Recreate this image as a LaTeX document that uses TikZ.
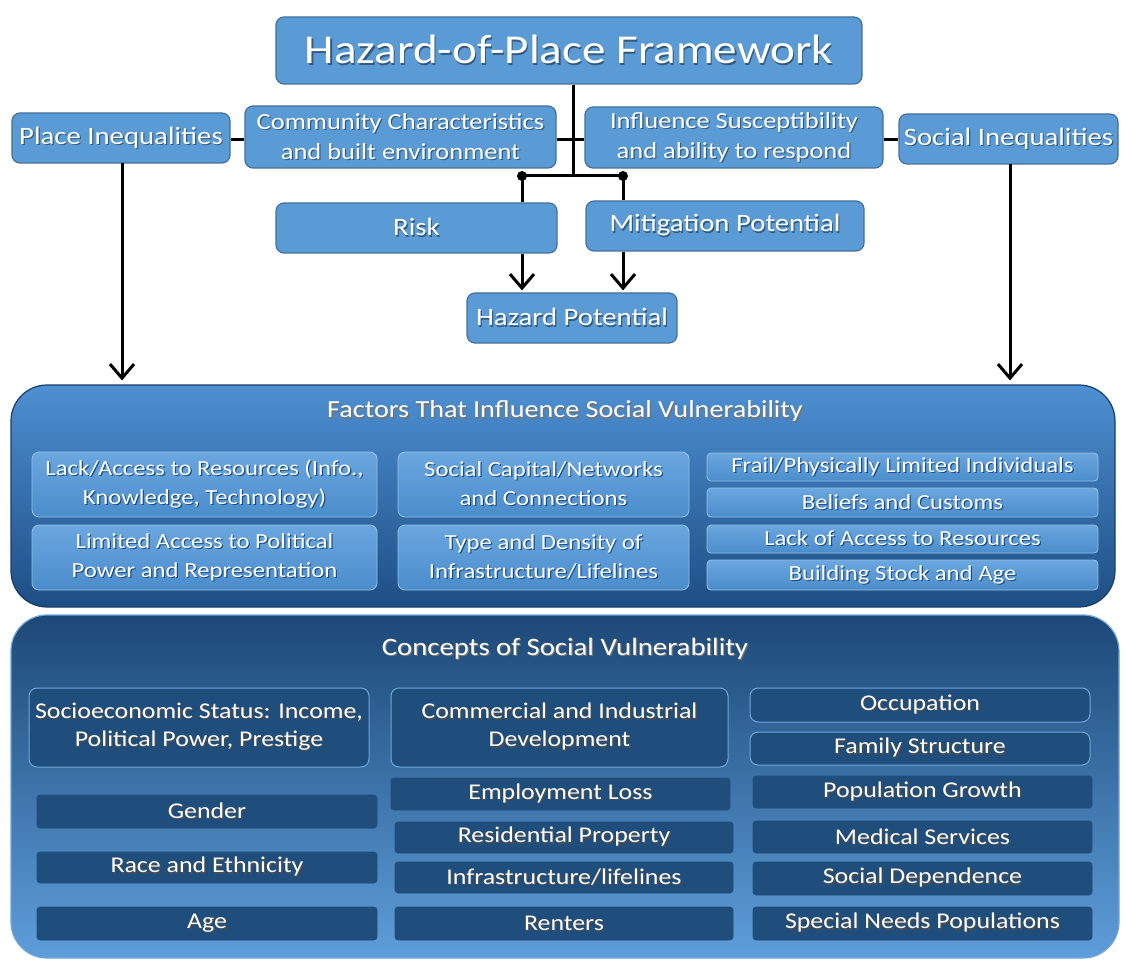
\documentclass[tikz,border=0pt]{standalone}
\usepackage{fontspec}
\setmainfont[FakeStretch=1.15]{Carlito}
\usetikzlibrary{arrows.meta}
\definecolor{lb}{HTML}{5B9BD5}
\definecolor{lbline}{HTML}{41719C}
\definecolor{ftop}{HTML}{4E90D2}
\definecolor{fbot}{HTML}{1D4E84}
\definecolor{finA}{HTML}{6BA7DF}
\definecolor{finB}{HTML}{4A8CCB}
\definecolor{ctop}{HTML}{1C4877}
\definecolor{cbot}{HTML}{5E9EDA}
\definecolor{cin}{HTML}{1F4E7C}
\definecolor{cinline}{HTML}{6FA6DA}
\colorlet{shcol}{black!50}
\newcommand\sh[1]{\leavevmode\rlap{\hspace{1.2pt}\raisebox{-1.2pt}{\textcolor{shcol}{#1}}}#1}
\newcommand\two[2]{\sh{#1}\\\sh{#2}}
\newcommand\Bx[7]{\node[#1,minimum width={#4-#2},minimum height={#5-#3}] (#6) at ({(#2+#4)/2},{(#3+#5)/2}) {#7};}
\begin{document}
\begin{tikzpicture}[x=1pt,y=-1pt,
  topbox/.style={draw=lbline,fill=lb,line width=1.2pt,rounded corners=8pt,text=white,align=center,inner sep=0pt,font=\fontsize{23}{30}\selectfont,execute at begin node=\colorlet{shcol}{lbline!80!black}},
  titlebox/.style={topbox,font=\fontsize{41}{44}\selectfont},
  midbox/.style={topbox,font=\fontsize{25}{28}\selectfont},
  outerF/.style={draw=fbot!80!black,line width=1.2pt,top color=ftop,bottom color=fbot,rounded corners=36pt,inner sep=0pt},
  outerC/.style={draw=cinline,line width=1.2pt,top color=ctop,bottom color=cbot,rounded corners=36pt,inner sep=0pt},
  fbox/.style={draw=finA!70!white,line width=0.8pt,top color=finA,bottom color=finB,rounded corners=7pt,text=white,align=center,inner sep=0pt,font=\fontsize{21.5}{29}\selectfont,execute at begin node=\colorlet{shcol}{fbot}},
  fsmall/.style={fbox,rounded corners=4pt},
  cbox/.style={draw=cinline,fill=cin,line width=1pt,rounded corners=8pt,text=white,align=center,inner sep=0pt,font=\fontsize{22.5}{28}\selectfont,execute at begin node=\colorlet{shcol}{black!70}},
  csmall/.style={draw=cin,fill=cin,line width=0.6pt,rounded corners=3pt,text=white,align=center,inner sep=0pt,font=\fontsize{22.5}{26}\selectfont,execute at begin node=\colorlet{shcol}{black!70}},
  hdr/.style={text=white,inner sep=0pt,execute at begin node=\colorlet{shcol}{black!55}},
  ln/.style={line width=3pt,black},
  arr/.style={ln,-{Straight Barb[length=14pt,width=24pt,line width=3pt]}}
]
\useasboundingbox[fill=white] (0,0) rectangle (1125,960);
% top part
\Bx{titlebox}{276}{17}{862}{84}{title}{\sh{Hazard-of-Place Framework}}
\Bx{midbox}{12}{113}{230}{163}{place}{\sh{Place Inequalities}}
\Bx{topbox}{245}{106}{556}{168}{comm}{\two{Community Characteristics}{and built environment}}
\Bx{topbox}{585}{107}{883}{168}{infl}{\two{Influence Susceptibility}{and ability to respond}}
\Bx{midbox}{899}{114}{1118}{164}{social}{\sh{Social Inequalities}}
\Bx{midbox}{276}{203}{557}{253}{risk}{\sh{Risk}}
\Bx{midbox}{586}{201}{864}{251}{mit}{\sh{Mitigation Potential}}
\Bx{midbox}{467}{293}{677}{343}{hp}{\sh{Hazard Potential}}
% factors
\Bx{outerF}{11}{385}{1115}{607}{factors}{}
\node[hdr,font=\fontsize{24.5}{28}\selectfont] (ftitle) at (565,412) {\sh{Factors That Influence Social Vulnerability}};
\Bx{fbox}{32}{452}{377}{517}{f1}{\two{Lack/Access to Resources (Info.,}{Knowledge, Technology)}}
\Bx{fbox}{32}{525}{377}{590}{f2}{\two{Limited Access to Political}{Power and Representation}}
\Bx{fbox}{398}{452}{689}{517}{f3}{\two{Social Capital/Networks}{and Connections}}
\Bx{fbox}{398}{525}{689}{590}{f4}{\two{Type and Density of}{Infrastructure/Lifelines}}
\Bx{fsmall}{707}{453}{1098}{481}{f5}{\sh{Frail/Physically Limited Individuals}}
\Bx{fsmall}{707}{488}{1098}{517}{f6}{\sh{Beliefs and Customs}}
\Bx{fsmall}{707}{525}{1098}{553}{f7}{\sh{Lack of Access to Resources}}
\Bx{fsmall}{707}{560}{1098}{590}{f8}{\sh{Building Stock and Age}}
% concepts
\Bx{outerC}{11}{615}{1119}{958}{concepts}{}
\node[hdr,font=\fontsize{25}{28}\selectfont] (ctitle) at (565,649) {\sh{Concepts of Social Vulnerability}};
\Bx{cbox}{29}{688}{369}{767}{c1}{\two{Socioeconomic Status: Income,}{Political Power, Prestige}}
\Bx{cbox}{391}{688}{728}{767}{c2}{\two{Commercial and Industrial}{Development}}
\Bx{cbox}{750}{688}{1090}{722}{c3}{\sh{Occupation}}
\Bx{cbox}{750}{732}{1090}{765}{c4}{\sh{Family Structure}}
\Bx{csmall}{37}{795}{377}{828}{c5}{\sh{Gender}}
\Bx{csmall}{37}{852}{377}{883}{c6}{\sh{Race and Ethnicity}}
\Bx{csmall}{37}{907}{377}{940}{c7}{\sh{Age}}
\Bx{csmall}{391}{778}{730}{810}{c8}{\sh{Employment Loss}}
\Bx{csmall}{395}{822}{733}{853}{c9}{\sh{Residential Property}}
\Bx{csmall}{395}{862}{733}{893}{c10}{\sh{Infrastructure/lifelines}}
\Bx{csmall}{395}{907}{733}{940}{c11}{\sh{Renters}}
\Bx{csmall}{753}{776}{1092}{808}{c12}{\sh{Population Growth}}
\Bx{csmall}{753}{821}{1092}{853}{c13}{\sh{Medical Services}}
\Bx{csmall}{753}{862}{1092}{895}{c14}{\sh{Social Dependence}}
\Bx{csmall}{753}{907}{1092}{940}{c15}{\sh{Special Needs Populations}}
% connectors
\coordinate (j) at (573,176);
\coordinate (d1) at (522,176);
\coordinate (d2) at (623,176);
\coordinate (h) at (0,140);
\draw[ln] (title.south -| j) -- (j);
\draw[ln] (d1) -- (d2);
\fill (d1) circle (5);
\fill (d2) circle (5);
\draw[ln] (comm.east |- h) -- (infl.west |- h);
\draw[ln] (place.east |- h) -- (comm.west |- h);
\draw[ln] (infl.east |- h) -- (social.west |- h);
\draw[ln] (d1) -- (risk.north -| d1);
\draw[ln] (d2) -- (mit.north -| d2);
\draw[arr,shorten >=2pt] (risk.south -| d1) -- (hp.north -| d1);
\draw[arr,shorten >=2pt] (mit.south -| d2) -- (hp.north -| d2);
\coordinate (pa) at (122,163);
\coordinate (sa) at (1010,164);
\draw[arr,shorten >=4pt] (pa) -- (pa |- factors.north);
\draw[arr,shorten >=4pt] (sa) -- (sa |- factors.north);
\end{tikzpicture}
\end{document}
